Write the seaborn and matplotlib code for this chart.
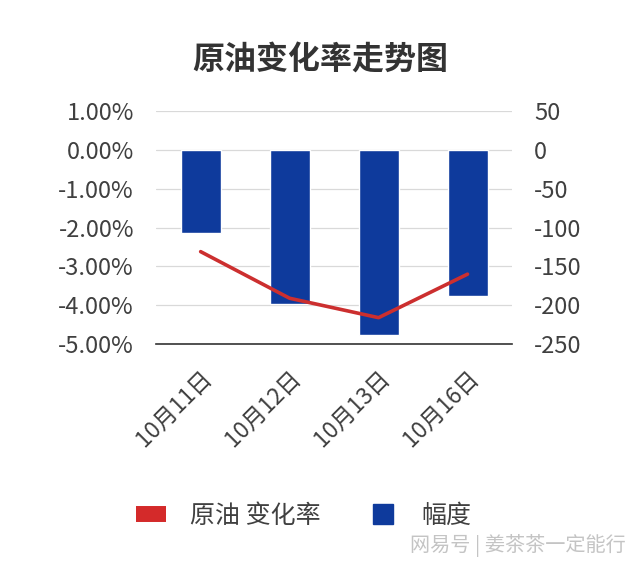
import numpy as np
import pandas as pd
import matplotlib
matplotlib.use("Agg")
import matplotlib.pyplot as plt
import seaborn as sns
from matplotlib.lines import Line2D
import matplotlib.transforms as mtransforms

dates = ["10月11日", "10月12日", "10月13日", "10月16日"]
amplitude_pct = [-2.15, -3.97, -4.77, -3.77]      # 幅度 (left axis, %)
crude_change = [-131, -191, -216, -160]           # 原油 变化率 (right axis)
left_ticks = [1, 0, -1, -2, -3, -4, -5]
right_ticks = [50, 0, -50, -100, -150, -200, -250]

sns.set_theme(style="white")
plt.rcParams['font.family'] = ['Noto Sans CJK SC', 'DejaVu Sans']

BLUE = "#0e3a9c"
RED = "#cc2f2f"
TXT = "#404040"

fig = plt.figure(figsize=(6.4, 5.65), dpi=100)
ax = fig.add_axes([0.244, 0.391, 0.556, 0.4125])

df = pd.DataFrame({"date": dates, "amp": amplitude_pct})
sns.barplot(data=df, x="date", y="amp", color=BLUE, saturation=1, width=0.45, ax=ax)
ax.set_ylim(-5, 1)
ax.set_yticks(left_ticks)
ax.set_yticklabels([f"{v:.2f}%" for v in left_ticks])
ax.set_xlim(-0.5, 3.5)
ax.grid(axis="y", color="#d9d9d9", linewidth=0.9)
ax.set_axisbelow(True)
for s in ["top", "left", "right"]:
    ax.spines[s].set_visible(False)
ax.spines["bottom"].set_color("#333333")
ax.spines["bottom"].set_linewidth(1.2)
ax.set_xlabel("")
ax.set_ylabel("")
ax.tick_params(axis="y", length=0, labelsize=17, colors=TXT, pad=16)
ax.tick_params(axis="x", length=0, labelsize=16.5, colors=TXT, pad=16)
offset = mtransforms.ScaledTranslation(0, 0, fig.dpi_scale_trans)
for lbl in ax.get_xticklabels():
    lbl.set_rotation(45)
    lbl.set_ha("right")
    lbl.set_va("top")
    lbl.set_rotation_mode("anchor")
    lbl.set_transform(lbl.get_transform() + offset)

ax2 = ax.twinx()
sns.lineplot(x=np.arange(len(dates)), y=crude_change, color=RED, linewidth=2.6, ax=ax2)
ax2.set_ylim(-250, 50)
ax2.set_yticks(right_ticks)
ax2.set_yticklabels([str(v) for v in right_ticks])
for s in ["top", "left", "right", "bottom"]:
    ax2.spines[s].set_visible(False)
ax2.tick_params(axis="y", length=0, labelsize=17, colors=TXT, pad=16)
ax2.grid(False)
ax2.set_xlim(-0.5, 3.5)

fig.text(0.5, 0.893, "原油变化率走势图", ha="center", va="center",
         fontsize=23, fontweight="bold", color="#333333")

handles = [Line2D([0], [0], color="#d42a2a", linewidth=11.5, solid_capstyle="butt"),
           Line2D([0], [0], color="none", marker="s", markersize=13.7,
                  markerfacecolor=BLUE, markeredgecolor=BLUE)]
leg = fig.legend(handles, ["原油 变化率", "幅度"], loc="center", ncol=2,
                 bbox_to_anchor=(0.475, 0.087), frameon=False, fontsize=18,
                 handlelength=1.2, columnspacing=1.9, handletextpad=0.95)
for t in leg.get_texts():
    t.set_color(TXT)

fig.text(0.977, 0.035, "网易号 | 姜茶茶一定能行", ha="right", va="center",
         fontsize=14.5, color="#c4c4c4")

fig.savefig("out.png", dpi=100, facecolor="white")
